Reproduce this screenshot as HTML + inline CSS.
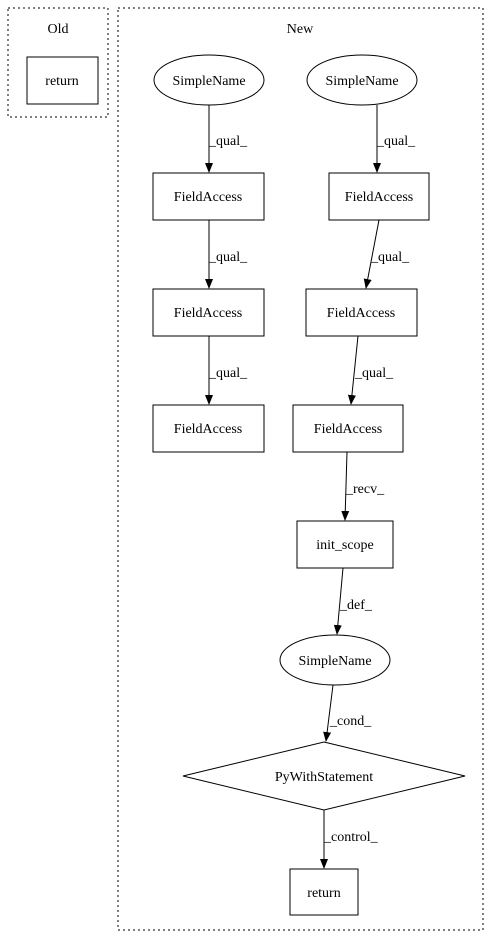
<!DOCTYPE html>
<html><head><meta charset="utf-8"><style>body{margin:0;background:#fff}</style></head><body>
<svg width="491" height="944" viewBox="0 0 491 944" xmlns="http://www.w3.org/2000/svg" font-family="Liberation Serif, serif" font-size="14">
<defs><marker id="a" markerWidth="10" markerHeight="8" refX="9" refY="4" orient="auto" markerUnits="userSpaceOnUse"><path d="M0,0 L10,4 L0,8 z" fill="#000"/></marker></defs>
<g fill="none" stroke="#000" stroke-dasharray="2,3">
<rect x="8" y="8" width="100" height="109"/>
<rect x="118" y="8" width="365" height="922"/>
</g>
<g text-anchor="middle" fill="#000">
<text x="58" y="33">Old</text>
<text x="300" y="33">New</text>
</g>
<g fill="none" stroke="#000">
<rect x="27" y="57" width="71" height="47"/>
<ellipse cx="209" cy="80" rx="55" ry="25"/>
<ellipse cx="362" cy="80" rx="55" ry="25"/>
<rect x="153" y="173" width="111" height="47"/>
<rect x="153" y="289" width="111" height="47"/>
<rect x="153" y="405" width="111" height="47"/>
<rect x="329" y="173" width="100" height="47"/>
<rect x="306" y="289" width="111" height="47"/>
<rect x="293" y="405" width="110" height="47"/>
<rect x="297" y="521" width="96" height="47"/>
<ellipse cx="335" cy="660" rx="55" ry="25"/>
<polygon points="324,742 465,776 324,810 183,776"/>
<rect x="290" y="869" width="68" height="46"/>
</g>
<g stroke="#000" marker-end="url(#a)">
<line x1="209" y1="105" x2="209" y2="172"/>
<line x1="209" y1="220" x2="209" y2="288"/>
<line x1="209" y1="336" x2="209" y2="404"/>
<line x1="377" y1="105" x2="377" y2="172"/>
<line x1="379" y1="220" x2="366" y2="288"/>
<line x1="358" y1="336" x2="351" y2="404"/>
<line x1="347" y1="452" x2="345" y2="520"/>
<line x1="343" y1="568" x2="337" y2="634"/>
<line x1="333" y1="685" x2="326" y2="741"/>
<line x1="324" y1="810" x2="324" y2="868"/>
</g>
<g fill="#000" text-anchor="middle">
<text x="62" y="85">return</text>
<text x="209" y="85">SimpleName</text>
<text x="362" y="85">SimpleName</text>
<text x="208" y="201">FieldAccess</text>
<text x="208" y="317">FieldAccess</text>
<text x="208" y="433">FieldAccess</text>
<text x="379" y="201">FieldAccess</text>
<text x="361" y="317">FieldAccess</text>
<text x="348" y="433">FieldAccess</text>
<text x="345" y="549">init_scope</text>
<text x="335" y="665">SimpleName</text>
<text x="324" y="781">PyWithStatement</text>
<text x="324" y="897">return</text>
</g>
<g fill="#000">
<text x="209" y="145">_qual_</text>
<text x="209" y="261">_qual_</text>
<text x="209" y="377">_qual_</text>
<text x="377" y="145">_qual_</text>
<text x="371" y="261">_qual_</text>
<text x="355" y="377">_qual_</text>
<text x="346" y="493">_recv_</text>
<text x="340" y="609">_def_</text>
<text x="330" y="725">_cond_</text>
<text x="324" y="841">_control_</text>
</g>
</svg>
</body></html>
